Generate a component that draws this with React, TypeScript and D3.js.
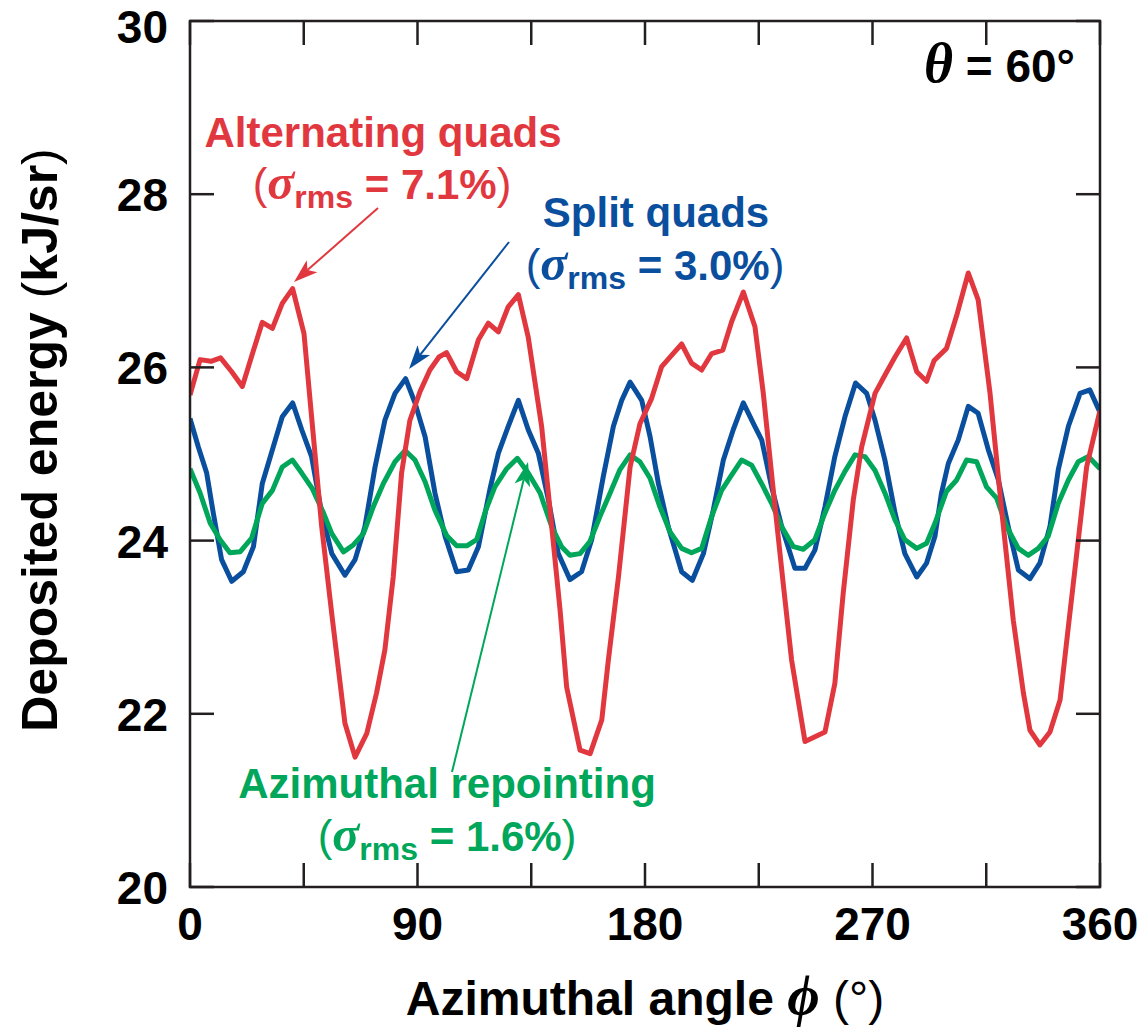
import React from 'react';
import * as d3 from 'd3';

// ---- Data (phi in degrees, deposited energy in kJ/sr) ----
const altPhi = [0, 4.0, 8.3, 12.1, 16.5, 20.7, 24.6, 28.6, 32.6, 36.5, 40.6, 45.1, 48.1, 52.1, 56.1, 61.3, 65.3, 69.9, 73.8, 77.1, 80.4, 83.7, 87.0, 91.0, 94.9, 98.5, 101.5, 105.5, 109.5, 114.1, 118.0, 122.0, 125.9, 129.9, 133.8, 139.1, 143.1, 146.4, 149.0, 154.3, 158.3, 162.9, 165.5, 169.5, 174.1, 178.0, 182.6, 186.6, 190.5, 194.5, 198.4, 202.4, 206.4, 210.8, 214.3, 218.9, 223.5, 226.8, 230.5, 234.5, 238.0, 243.3, 251.2, 255.1, 258.4, 262.4, 265.7, 271.0, 274.9, 278.9, 283.5, 287.5, 291.4, 294.4, 299.3, 303.5, 307.9, 311.8, 316.5, 321.1, 325.7, 329.7, 332.3, 336.2, 340.2, 344.2, 347.5, 350.8, 354.7, 360];
const altE = [25.68, 26.09, 26.07, 26.11, 25.95, 25.78, 26.15, 26.52, 26.45, 26.74, 26.91, 26.39, 25.43, 24.16, 23.15, 21.89, 21.50, 21.77, 22.24, 22.74, 23.58, 24.78, 25.39, 25.72, 25.97, 26.12, 26.17, 25.95, 25.87, 26.32, 26.51, 26.41, 26.70, 26.84, 26.35, 25.32, 24.16, 23.20, 22.31, 21.58, 21.54, 21.93, 22.62, 23.58, 24.85, 25.35, 25.64, 26.01, 26.14, 26.27, 26.05, 25.97, 26.16, 26.20, 26.53, 26.87, 26.47, 25.70, 24.65, 23.55, 22.62, 21.68, 21.79, 22.35, 23.39, 24.47, 25.08, 25.70, 25.91, 26.12, 26.34, 25.95, 25.84, 26.08, 26.22, 26.62, 27.09, 26.78, 25.70, 24.35, 23.08, 22.24, 21.81, 21.64, 21.79, 22.16, 23.01, 23.85, 24.85, 25.50];

const splitPhi = [0, 3.3, 6.6, 9.2, 12.5, 16.5, 21.1, 25.1, 28.6, 32.6, 36.5, 40.6, 44.2, 48.1, 52.1, 56.1, 61.3, 65.3, 69.2, 73.2, 77.1, 81.1, 85.3, 89.0, 93.0, 96.9, 100.9, 105.5, 110.1, 114.1, 118.7, 122.0, 125.9, 129.9, 133.8, 137.8, 141.8, 145.7, 150.3, 154.9, 158.9, 163.5, 167.5, 170.8, 174.1, 178.7, 182.0, 185.3, 189.2, 194.5, 198.7, 203.1, 207.0, 211.0, 214.9, 218.9, 222.9, 226.2, 230.1, 234.1, 239.3, 243.3, 247.2, 251.2, 255.1, 259.1, 263.3, 267.7, 271.0, 274.9, 278.9, 282.8, 287.5, 291.4, 294.7, 297.3, 300.0, 303.9, 307.9, 311.8, 315.8, 319.8, 323.7, 327.7, 332.3, 336.2, 340.2, 343.5, 347.5, 352.1, 356.0, 360];
const splitE = [25.41, 25.08, 24.78, 24.32, 23.78, 23.53, 23.64, 23.93, 24.66, 25.05, 25.43, 25.59, 25.28, 24.97, 24.32, 23.85, 23.60, 23.78, 24.16, 24.85, 25.39, 25.70, 25.87, 25.59, 25.20, 24.55, 24.05, 23.64, 23.66, 23.93, 24.60, 25.01, 25.32, 25.62, 25.28, 25.01, 24.47, 23.85, 23.55, 23.64, 24.01, 24.74, 25.32, 25.62, 25.83, 25.62, 25.20, 24.66, 24.16, 23.64, 23.54, 23.85, 24.35, 24.93, 25.28, 25.59, 25.35, 25.16, 24.62, 24.16, 23.68, 23.68, 23.89, 24.39, 24.97, 25.43, 25.82, 25.70, 25.39, 24.93, 24.32, 23.85, 23.58, 23.74, 24.05, 24.55, 24.89, 25.16, 25.55, 25.47, 25.05, 24.70, 24.16, 23.66, 23.56, 23.74, 24.16, 24.82, 25.32, 25.70, 25.74, 25.48];

const repointPhi = [0, 4.0, 8.0, 11.9, 15.8, 19.8, 24.4, 28.6, 32.6, 36.5, 40.5, 44.2, 48.4, 52.8, 56.1, 60.7, 64.6, 68.6, 72.5, 76.5, 81.1, 85.1, 89.0, 93.0, 96.9, 101.5, 105.5, 109.5, 113.4, 117.0, 120.6, 125.3, 129.5, 133.8, 138.5, 143.1, 147.0, 150.3, 154.3, 158.2, 162.2, 166.2, 170.1, 174.1, 178.0, 182.0, 185.9, 189.9, 194.5, 198.4, 202.4, 206.4, 210.3, 214.3, 218.2, 222.2, 226.1, 230.1, 234.1, 238.7, 242.6, 247.2, 251.2, 255.1, 259.1, 263.1, 267.0, 271.0, 274.9, 278.9, 282.8, 287.5, 291.4, 294.7, 299.3, 303.3, 307.2, 311.2, 315.1, 319.1, 323.1, 327.7, 331.6, 335.6, 339.5, 343.5, 347.5, 351.4, 355.4, 360];
const repointE = [24.83, 24.55, 24.20, 24.01, 23.86, 23.87, 24.03, 24.43, 24.58, 24.85, 24.93, 24.78, 24.60, 24.32, 24.08, 23.87, 23.95, 24.08, 24.39, 24.66, 24.91, 25.04, 24.93, 24.68, 24.35, 24.06, 23.94, 23.94, 24.01, 24.35, 24.62, 24.83, 24.95, 24.78, 24.55, 24.16, 23.93, 23.83, 23.85, 23.99, 24.28, 24.55, 24.82, 24.99, 24.91, 24.72, 24.39, 24.10, 23.91, 23.86, 23.91, 24.28, 24.58, 24.76, 24.93, 24.87, 24.66, 24.43, 24.16, 23.93, 23.90, 24.01, 24.32, 24.58, 24.80, 24.99, 24.97, 24.81, 24.55, 24.24, 24.01, 23.91, 23.97, 24.20, 24.57, 24.70, 24.93, 24.91, 24.62, 24.49, 24.16, 23.91, 23.83, 23.91, 24.05, 24.43, 24.70, 24.91, 24.97, 24.83];

const yTickValues = [20, 22, 24, 26, 28, 30];
const xLabelValues = [0, 90, 180, 270, 360];
const xTickValues = [0, 45, 90, 135, 180, 225, 270, 315, 360];

const RED = '#e1383f';
const BLUE = '#0a4f9e';
const GREEN = '#00a65a';
const INK = '#231f20';
const SANS = '"Liberation Sans", Arial, Helvetica, sans-serif';
const SERIF = '"Liberation Serif", "Times New Roman", serif';

const L = 190, R = 1100, T = 21, B = 887;

function Arrow({ x1, y1, x2, y2, color, head = 24, half = 8 }: any) {
  const dx = x2 - x1, dy = y2 - y1;
  const len = Math.sqrt(dx * dx + dy * dy);
  const ux = dx / len, uy = dy / len;
  const bx = x2 - ux * head, by = y2 - uy * head;
  const nx = -uy, ny = ux;
  const notch = 0.25;
  const mx = x2 - ux * head * (1 - notch), my = y2 - uy * head * (1 - notch);
  const pts = [
    [x2, y2],
    [bx + nx * half, by + ny * half],
    [mx, my],
    [bx - nx * half, by - ny * half],
  ].map((p) => p.join(',')).join(' ');
  return (
    <g>
      <line x1={x1} y1={y1} x2={mx} y2={my} stroke={color} strokeWidth={2} />
      <polygon points={pts} fill={color} />
    </g>
  );
}

function Sigma({ x, y, color, val }: any) {
  return (
    <text x={x} y={y} textAnchor="middle" fill={color} fontFamily={SANS} fontWeight="bold" fontSize={42}>
      <tspan fontWeight="normal" fontSize={44}>(</tspan>
      <tspan fontFamily={SERIF} fontStyle="italic" fontWeight="bold" fontSize={50}>σ</tspan>
      <tspan fontSize={32} dy={9}>rms</tspan>
      <tspan dy={-9}>{` = ${val}`}</tspan>
      <tspan fontWeight="normal" fontSize={44}>)</tspan>
    </text>
  );
}

export default function App() {
  const x = d3.scaleLinear().domain([0, 360]).range([L, R]);
  const y = d3.scaleLinear().domain([20, 30]).range([B, T]);
  const line = d3.line<[number, number]>().x((d) => x(d[0])).y((d) => y(d[1]));

  const series = [
    { phi: splitPhi, e: splitE, color: BLUE },
    { phi: repointPhi, e: repointE, color: GREEN },
    { phi: altPhi, e: altE, color: RED },
  ];

  return (
    <svg width={1142} height={1034} style={{ position: 'absolute', left: 0, top: 0, background: '#fff' }}>
      <defs>
        <clipPath id="plot">
          <rect x={L} y={T} width={R - L} height={B - T} />
        </clipPath>
      </defs>
      <rect x={0} y={0} width={1142} height={1034} fill="#fff" />

      <g clipPath="url(#plot)">
        {series.map((s, i) => (
          <path
            key={i}
            d={line(s.phi.map((p, j) => [p, s.e[j]] as [number, number])) || ''}
            fill="none"
            stroke={s.color}
            strokeWidth={5}
            strokeLinejoin="round"
          />
        ))}
      </g>

      {/* frame */}
      <rect x={L} y={T} width={R - L} height={B - T} fill="none" stroke={INK} strokeWidth={2.5} />

      {/* y ticks */}
      {yTickValues.map((v) => (
        <g key={'y' + v}>
          <line x1={L} x2={L + 24} y1={y(v)} y2={y(v)} stroke={INK} strokeWidth={2.5} />
          <line x1={R - 24} x2={R} y1={y(v)} y2={y(v)} stroke={INK} strokeWidth={2.5} />
          <text
            x={168}
            y={v === 30 ? 43 : y(v) + 17}
            textAnchor="end"
            fontFamily={SANS}
            fontWeight="bold"
            fontSize={46}
            fill="#000"
          >
            {v}
          </text>
        </g>
      ))}
      {/* x ticks */}
      {xTickValues.map((v) => (
        <g key={'x' + v}>
          <line x1={x(v)} x2={x(v)} y1={B} y2={B - 24} stroke={INK} strokeWidth={2.5} />
          <line x1={x(v)} x2={x(v)} y1={T} y2={T + 24} stroke={INK} strokeWidth={2.5} />
        </g>
      ))}
      {xLabelValues.map((v) => (
        <text key={'xl' + v} x={x(v)} y={940} textAnchor="middle" fontFamily={SANS} fontWeight="bold" fontSize={46} fill="#000">
          {v}
        </text>
      ))}

      {/* axis titles */}
      <text x={645} y={1015} textAnchor="middle" fontFamily={SANS} fontWeight="bold" fontSize={48} fill="#000">
        Azimuthal angle{' '}
        <tspan fontFamily={SERIF} fontStyle="italic" fontSize={56}>ϕ</tspan>
        <tspan fontWeight="normal" fontSize={48}> (°)</tspan>
      </text>
      <text
        transform={`translate(57, 440) rotate(-90)`}
        textAnchor="middle"
        fontFamily={SANS}
        fontWeight="bold"
        fontSize={50}
        fill="#000"
      >
        Deposited energy <tspan fontWeight="normal">(</tspan>kJ/sr<tspan fontWeight="normal">)</tspan>
      </text>

      {/* theta label */}
      <text x={1075} y={82} textAnchor="end" fontFamily={SANS} fontWeight="bold" fontSize={46} fill="#000">
        <tspan fontFamily={SERIF} fontStyle="italic" fontSize={56}>θ</tspan>
        {' = 60°'}
      </text>

      {/* annotations */}
      <text x={383} y={147} textAnchor="middle" fill={RED} fontFamily={SANS} fontWeight="bold" fontSize={42}>
        Alternating quads
      </text>
      <Sigma x={382} y={199} color={RED} val="7.1%" />

      <text x={656} y={227} textAnchor="middle" fill={BLUE} fontFamily={SANS} fontWeight="bold" fontSize={42}>
        Split quads
      </text>
      <Sigma x={655} y={280} color={BLUE} val="3.0%" />

      <text x={447} y={798} textAnchor="middle" fill={GREEN} fontFamily={SANS} fontWeight="bold" fontSize={42}>
        Azimuthal repointing
      </text>
      <Sigma x={447} y={851} color={GREEN} val="1.6%" />

      <Arrow x1={378} y1={208} x2={294} y2={282} color={RED} />
      <Arrow x1={509} y1={242} x2={409} y2={369} color={BLUE} />
      <Arrow x1={452} y1={772} x2={528} y2={462} color={GREEN} />
    </svg>
  );
}
